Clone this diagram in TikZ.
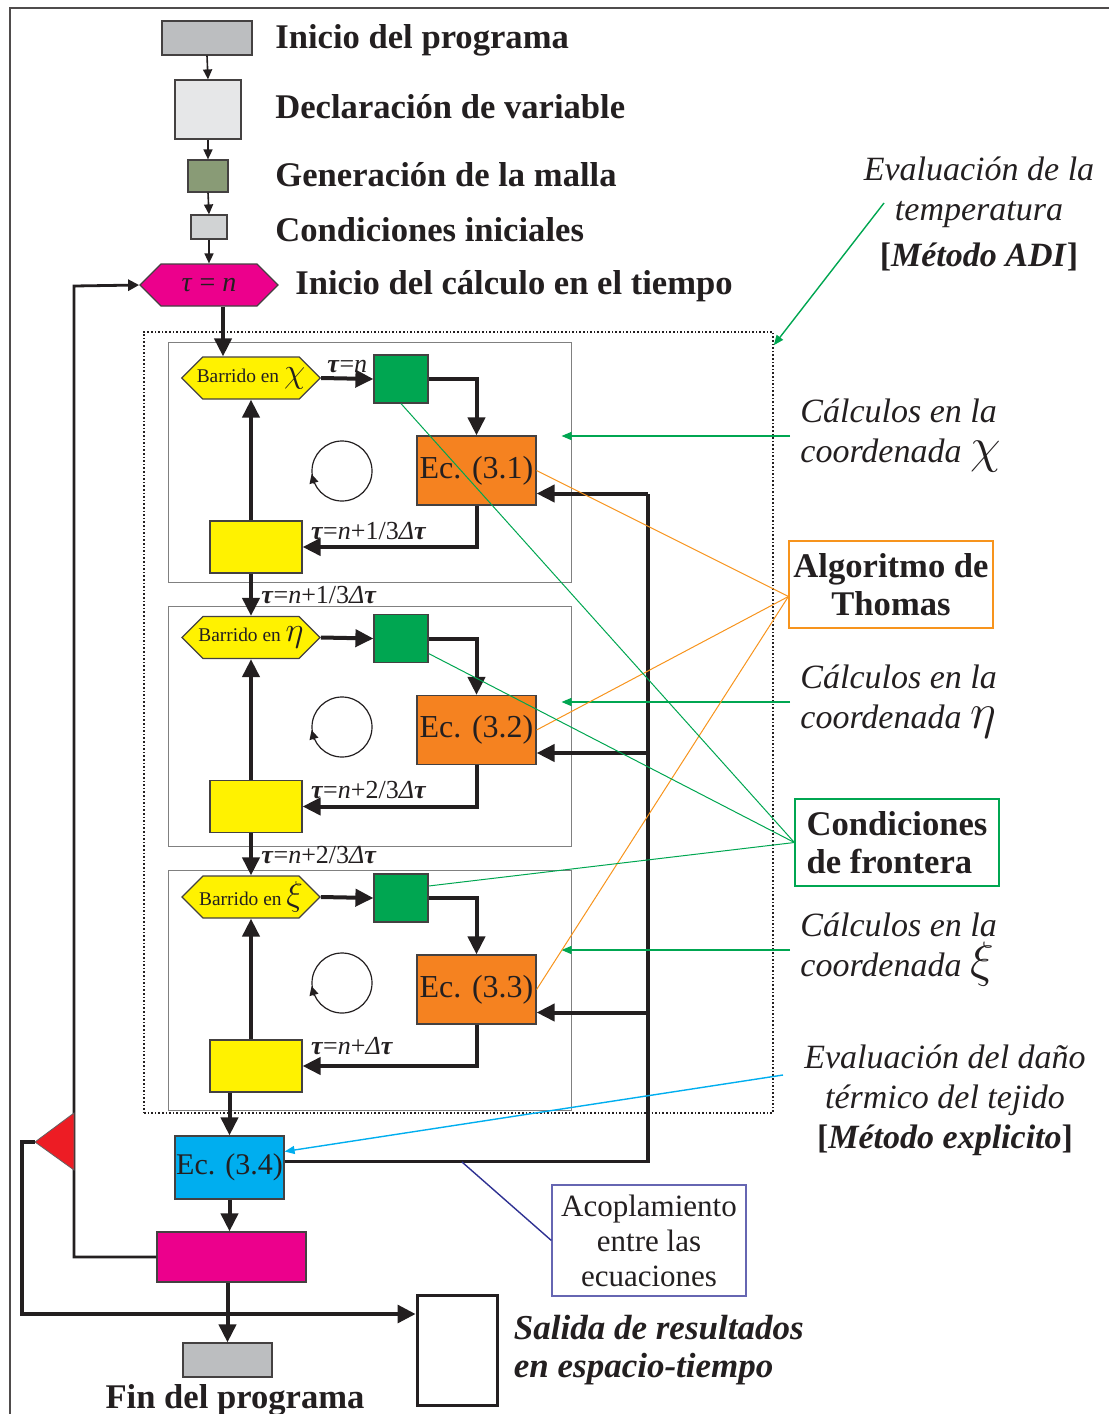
\documentclass[tikz,border=0pt]{standalone}
\usepackage{fontspec}
\setmainfont{Liberation Serif}
\usetikzlibrary{arrows.meta, positioning, shapes.symbols, calc}
\definecolor{ink}{RGB}{35,31,32}
\definecolor{startgray}{RGB}{188,190,192}
\definecolor{declgray}{RGB}{230,231,232}
\definecolor{meshgreen}{RGB}{137,155,118}
\definecolor{initgray}{RGB}{209,211,212}
\definecolor{mymagenta}{RGB}{236,0,140}
\definecolor{myyellow}{RGB}{255,242,0}
\definecolor{mygreen}{RGB}{0,166,81}
\definecolor{myorange}{RGB}{245,130,32}
\definecolor{mycyan}{RGB}{0,174,239}
\definecolor{myred}{RGB}{237,28,36}
\definecolor{mynavy}{RGB}{46,49,146}
\definecolor{boxblue}{RGB}{102,102,178}
\definecolor{thomasorange}{RGB}{247,148,29}
\newcommand{\tauB}{\textbf{\textit{τ}}}
\tikzset{
  blk/.style={draw=ink!85, line width=0.6pt, inner sep=0pt},
  hexa/.style={signal, signal to=east and west, draw=ink!85, line width=0.6pt, inner sep=0pt, minimum width=69pt, minimum height=21pt, text=ink},
  thin arrow/.style={draw=ink, line width=0.8pt, -{Triangle[length=5pt,width=4.5pt]}},
  big arrow/.style={draw=ink, line width=2pt, -{Triangle[length=9pt,width=8.5pt]}},
  big line/.style={draw=ink, line width=1.6pt},
  back arrow/.style={draw=ink, line width=1.4pt, -{Triangle[length=5.5pt,width=5.5pt]}},
  steplbl/.style={font=\fontsize{17.3}{20}\selectfont\bfseries, text=ink, inner sep=0pt, anchor=west},
  note/.style={font=\fontsize{17}{20}\selectfont\itshape, text=ink, inner sep=0pt},
  boldnote/.style={font=\fontsize{17.3}{19}\selectfont\bfseries, text=ink, inner sep=0pt},
  taulbl/.style={font=\fontsize{13}{15}\selectfont, text=ink, inner sep=0pt, anchor=base west},
  pointer/.style={line width=0.7pt, -{Triangle[length=5pt,width=4pt]}},
  leader/.style={line width=0.5pt},
}
\begin{document}
\begin{tikzpicture}[x=0.5pt, y=-0.5pt]
  \useasboundingbox (0,0) rectangle (1109,1414);
  % frame
  \draw[ink!80, line width=0.6pt] (10,1414) -- (10,8) -- (1109,8);

  % start of the program
  \node[blk, fill=startgray, minimum width=45pt, minimum height=17pt] (inicio) at (207,38) {};
  \node[blk, fill=declgray, minimum width=33pt, minimum height=29.5pt] (decl) at (208,109.5) {};
  \node[blk, fill=meshgreen, minimum width=20pt, minimum height=16pt] (malla) at (208,176) {};
  \node[blk, fill=initgray, minimum width=18pt, minimum height=12pt] (condini) at (209,227) {};
  \node[hexa, fill=mymagenta, font=\fontsize{14}{15}\selectfont] (tau) at (209,285) {\textit{τ} = \textit{n}};

  \node[steplbl] (lblInicio) at (275,40) {Inicio del programa};
  \node[steplbl] (lblDecl) at (275,107) {Declaración de variable};
  \node[steplbl] (lblMalla) at (275,175) {Generación de la malla};
  \node[steplbl] (lblCond) at (275,230) {Condiciones iniciales};
  \node[steplbl] (lblTau) at (295,286) {Inicio del cálculo en el tiempo};

  \draw[thin arrow] (inicio.south) -- (decl.north);
  \draw[thin arrow] (decl.south) -- (malla.north);
  \draw[thin arrow] (malla.south) -- (condini.north);
  \draw[thin arrow] (condini.south) -- (tau.north);

  % ADI block
  \node[draw=ink, line width=0.8pt, densely dotted, minimum width=314.5pt, minimum height=390.5pt] (adi) at (458.5,722.5) {};

  \foreach \k/\sym/\n in {0/\chi/1, 1/\eta/2, 2/\xi/3}{
    \node[draw=gray, line width=0.5pt, minimum width=201.5pt, minimum height=120pt] (box\k) at (369.5,{462+264*\k}) {};
    \node[hexa, fill=myyellow, inner xsep=-3pt, font=\fontsize{9.7}{11}\selectfont] (hex\k) at (251,{378+259.5*\k}) {Barrido en {\fontsize{17}{17}\selectfont$\sym$}};
    \node[blk, fill=mygreen, minimum width=27pt, minimum height=24pt] (bc\k) at (401,{379+259.5*\k}) {};
    \node[blk, fill=myorange, minimum width=59.5pt, minimum height=34.5pt, font=\fontsize{16}{18}\selectfont, text=ink] (eq\k) at (476.5,{470.5+259.5*\k}) {Ec. (3.\n)};
    \node[blk, fill=myyellow, minimum width=46pt, minimum height=26pt] (yel\k) at (256,{547+259.5*\k}) {};
    \node[circle, draw=ink, line width=0.6pt, minimum size=30pt, inner sep=0pt] (loop\k) at (342,{471+256*\k}) {};
    \draw[ink, line width=0.6pt, -{Triangle[length=4.5pt,width=4.5pt]}] (loop\k.205) -- (loop\k.186);
    \draw[big arrow] (hex\k.east) -- (bc\k.west);
    \draw[big arrow] (bc\k.east) -| (eq\k.north);
    \draw[big arrow] (eq\k.south) |- (yel\k.east);
    \draw[big arrow] (hex\k.south |- yel\k.north) -- (hex\k.south);
  }

  \draw[big arrow] ([xshift=7pt]tau.south) -- ([xshift=7pt]tau.south |- hex0.north);
  \draw[big arrow] (hex1.north |- yel0.south) -- (hex1.north);
  \draw[big arrow] (hex2.north |- yel1.south) -- (hex2.north);

  \node[taulbl, anchor=base] (t00) at ($(hex0.east)!0.5!(bc0.west)+(0,-6)$) {\tauB=\textit{n}};
  \node[taulbl] (t0) at ([xshift=4pt,yshift=4pt]yel0.east) {\tauB=\textit{n}+1/3\textit{Δ}\tauB};
  \node[taulbl] (t1) at ([xshift=4pt,yshift=4pt]yel1.east) {\tauB=\textit{n}+2/3\textit{Δ}\tauB};
  \node[taulbl] (t2) at ([xshift=4pt,yshift=6pt]yel2.east) {\tauB=\textit{n}+\textit{Δ}\tauB};
  \node[taulbl] (t01) at ([xshift=5pt,yshift=6pt]hex1.north) {\tauB=\textit{n}+1/3\textit{Δ}\tauB};
  \node[taulbl] (t12) at ([xshift=5pt,yshift=6pt]hex2.north) {\tauB=\textit{n}+2/3\textit{Δ}\tauB};

  % damage and update
  \node[blk, fill=mycyan, minimum width=54.5pt, minimum height=31.5pt, font=\fontsize{15}{17}\selectfont, text=ink] (ec34) at (229.5,1167.5) {Ec. (3.4)};
  \node[blk, fill=mymagenta, minimum width=74.5pt, minimum height=25pt] (upd) at (231.5,1257) {};
  \node[blk, fill=startgray, minimum width=44.5pt, minimum height=17pt] (fin) at (227.5,1360) {};
  \node[draw=ink, line width=1.5pt, minimum width=40pt, minimum height=55pt] (out) at (457,1350) {};

  \draw[big arrow] (ec34.north |- yel2.south) -- (ec34.north);
  \draw[big arrow] (ec34.south) -- (ec34.south |- upd.north);
  \draw[big arrow] (upd.south -| fin.north) -- (fin.north);

  % coupling between the equations
  \coordinate (bus) at (648,0);
  \draw[big line] ([yshift=3pt]ec34.east) -| ($(bus |- eq0.east)+(0,23)$);
  \foreach \k in {0,1,2}
    \draw[big arrow] ($(bus |- eq\k.east)+(0,23)$) -- ([yshift=-11.5pt]eq\k.east);

  % time loop and output
  \coordinate (back) at (74,286);
  \draw[back arrow] (upd.west) -| (back) -- (tau.west);
  \filldraw[fill=myred, draw=ink!70, line width=0.4pt] (74,1113) -- (35,1142) -- (74,1170) -- cycle;
  \coordinate (selapex) at (35,1142);
  \coordinate (outturn) at (22,1314);
  \draw[draw=ink, line width=1.6pt, -{Triangle[length=9pt,width=9pt]}] (selapex) -| (outturn) -- (outturn -| out.west);

  \node[steplbl, anchor=base] (lblFin) at (235,1408) {Fin del programa};
  \node[font=\fontsize{17.5}{19}\selectfont\bfseries\itshape, text=ink, inner sep=0pt, align=left, right=7.5pt of out] (lblOut) {Salida de resultados\\en espacio-tiempo};

  % notes on the right
  \node[note, align=center] (evalT) at (979,214) {Evaluación de la\\temperatura\\[3pt]\textup{\textbf{[}}\textbf{\textit{Método ADI}}\textup{\textbf{]}}};
  \coordinate (adiTail) at (884,203);
  \draw[pointer, mygreen] (adiTail) -- ([yshift=-7pt]adi.north east);

  \node[note, align=left, anchor=west] (calcA) at (800,436) {Cálculos en la\\coordenada {\fontsize{25}{20}\selectfont$\chi$}};
  \node[note, align=left, anchor=west] (calcB) at (800,702) {Cálculos en la\\coordenada {\fontsize{25}{20}\selectfont$\eta$}};
  \node[note, align=left, anchor=west] (calcC) at (800,950) {Cálculos en la\\coordenada {\fontsize{25}{20}\selectfont$\xi$}};
  \draw[pointer, mygreen] ([xshift=-5pt]calcA.west) -- ([xshift=-5pt]calcA.west -| box0.east);
  \draw[pointer, mygreen] ([xshift=-5pt]calcB.west) -- ([xshift=-5pt]calcB.west -| box1.east);
  \draw[pointer, mygreen] ([xshift=-5pt]calcC.west) -- ([xshift=-5pt]calcC.west -| box2.east);

  \node[boldnote, draw=thomasorange, line width=0.6pt, minimum width=102pt, minimum height=43.5pt, align=center] (thomas) at (891,584.5) {Algoritmo de\\Thomas};
  \foreach \k in {0,1,2}
    \draw[leader, thomasorange] ([yshift=-6pt]thomas.west) -- (eq\k.east);

  \node[boldnote, draw=mygreen, line width=0.6pt, minimum width=102pt, minimum height=43.5pt, align=left] (front) at (897,842.5) {Condiciones\\de frontera};
  \draw[leader, mygreen] (front.west) -- (bc0.south);
  \draw[leader, mygreen] (front.west) -- ([yshift=-7.5pt]bc1.east);
  \draw[leader, mygreen] (front.west) -- ([yshift=6pt]bc2.east);

  \node[note, align=center] (evalD) at (945,1100) {Evaluación del daño\\térmico del tejido\\\textup{\textbf{[}}\textbf{\textit{Método explicito}}\textup{\textbf{]}}};
  \coordinate (dmgTail) at (783,1075);
  \draw[pointer, mycyan] (dmgTail) -- ([yshift=8pt]ec34.east);

  \node[draw=boxblue, line width=0.6pt, minimum width=97pt, minimum height=55.5pt, align=center, font=\fontsize{15.5}{17.5}\selectfont, text=ink] (acop) at (649,1240.5) {Acoplamiento\\entre las\\ecuaciones};
  \coordinate (tap) at (462,1162);
  \draw[leader, mynavy, line width=0.7pt] (acop.west) -- (tap);
\end{tikzpicture}
\end{document}
